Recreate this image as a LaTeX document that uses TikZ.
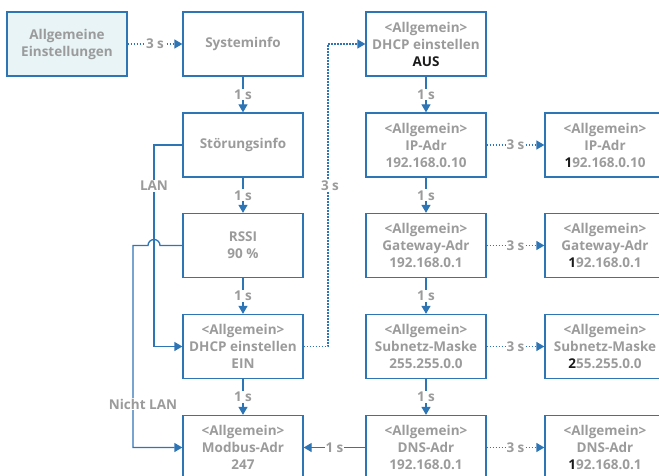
\documentclass[tikz,border=0pt]{standalone}
\usepackage{fontspec}
\setmainfont{Open Sans}
\usetikzlibrary{arrows.meta}
\definecolor{bl}{HTML}{2E75B6}
\definecolor{gt}{HTML}{9B9B9B}
\definecolor{bk}{HTML}{1A1A1A}
\definecolor{lb}{HTML}{E8F4F6}
\tikzset{
  box/.style={draw=bl,line width=1.3pt,minimum width=120pt,minimum height=64pt,inner sep=0pt,align=center,text=gt,font=\bfseries\fontsize{13.5}{17}\selectfont},
  conn/.style={draw=bl,line width=1.3pt,-{Triangle[length=8pt,width=9pt]}},
  plain/.style={draw=bl,line width=1.3pt},
  dot/.style={draw=bl,line width=1.3pt,dash pattern=on 1.5pt off 1.5pt,-{Triangle[length=8pt,width=9pt]}},
  lbl/.style={fill=white,text=gt,inner sep=1pt,font=\bfseries\fontsize{13.5}{15}\selectfont},
}
\begin{document}
\begin{tikzpicture}[x=1pt,y=1pt]
\useasboundingbox (0,0) rectangle (659,475);
\clip (0,0) rectangle (659,475);
% column 1
\node[box,fill=lb] (allg) at (67,431) {Allgemeine\\Einstellungen};
\node[box] (sys) at (243,431) {Systeminfo};
\node[box] (stoer) at (243,330) {Störungsinfo};
\node[box] (rssi) at (243,229.5) {RSSI\\90 \%};
\node[box] (ein) at (243,128.5) {<Allgemein>\\DHCP einstellen\\EIN};
\node[box] (modbus) at (243,27.5) {<Allgemein>\\Modbus-Adr\\247};
% column 2
\node[box] (aus) at (426,431) {<Allgemein>\\DHCP einstellen\\{\color{bk}AUS}};
\node[box] (ip) at (426,330) {<Allgemein>\\IP-Adr\\192.168.0.10};
\node[box] (gw) at (426,229.5) {<Allgemein>\\Gateway-Adr\\192.168.0.1};
\node[box] (sub) at (426,128.5) {<Allgemein>\\Subnetz-Maske\\255.255.0.0};
\node[box] (dns) at (426,27.5) {<Allgemein>\\DNS-Adr\\192.168.0.1};
% column 3
\node[box] (ip2) at (605,330) {<Allgemein>\\IP-Adr\\{\color{bk}1}92.168.0.10};
\node[box] (gw2) at (605,229.5) {<Allgemein>\\Gateway-Adr\\{\color{bk}1}92.168.0.1};
\node[box] (sub2) at (605,128.5) {<Allgemein>\\Subnetz-Maske\\{\color{bk}2}55.255.0.0};
\node[box] (dns2) at (605,27.5) {<Allgemein>\\DNS-Adr\\{\color{bk}1}92.168.0.1};
% vertical 1 s arrows
\foreach \a/\b in {sys/stoer,stoer/rssi,rssi/ein,ein/modbus,aus/ip,ip/gw,gw/sub,sub/dns}{
  \draw[conn] (\a.south) -- node[lbl]{1 s} (\b.north);
}
% horizontal dotted 3 s
\draw[dot] (allg.east) -- node[lbl]{3 s} (sys.west);
\foreach \a/\b in {ip/ip2,gw/gw2,sub/sub2,dns/dns2}{
  \draw[dot] (\a.east) -- node[lbl]{3 s} (\b.west);
}
% DNS -> Modbus
\draw[conn] (dns.west) -- node[lbl]{1 s} (modbus.east);
% LAN
\coordinate (lanx) at (154,330);
\draw[conn] (stoer.west) -- (lanx) |- (ein.west);
\node[lbl] (lan) at (154,289) {LAN};
% Nicht LAN with hop
\coordinate (hopr) at (160,229.5);
\coordinate (nlx) at (133,229.5);
\draw[conn] (rssi.west) -- (hopr) arc[start angle=0,end angle=180,radius=6] -- (nlx) |- (modbus.west);
\node[lbl] (nlan) at (143,71) {Nicht LAN};
% dotted 3 s up to DHCP AUS
\coordinate (dx) at (328,128.5);
\draw[dot] (ein.east) -- (dx) |- (aus.west);
\node[lbl] (d3) at (330,289) {3 s};
\end{tikzpicture}
\end{document}
